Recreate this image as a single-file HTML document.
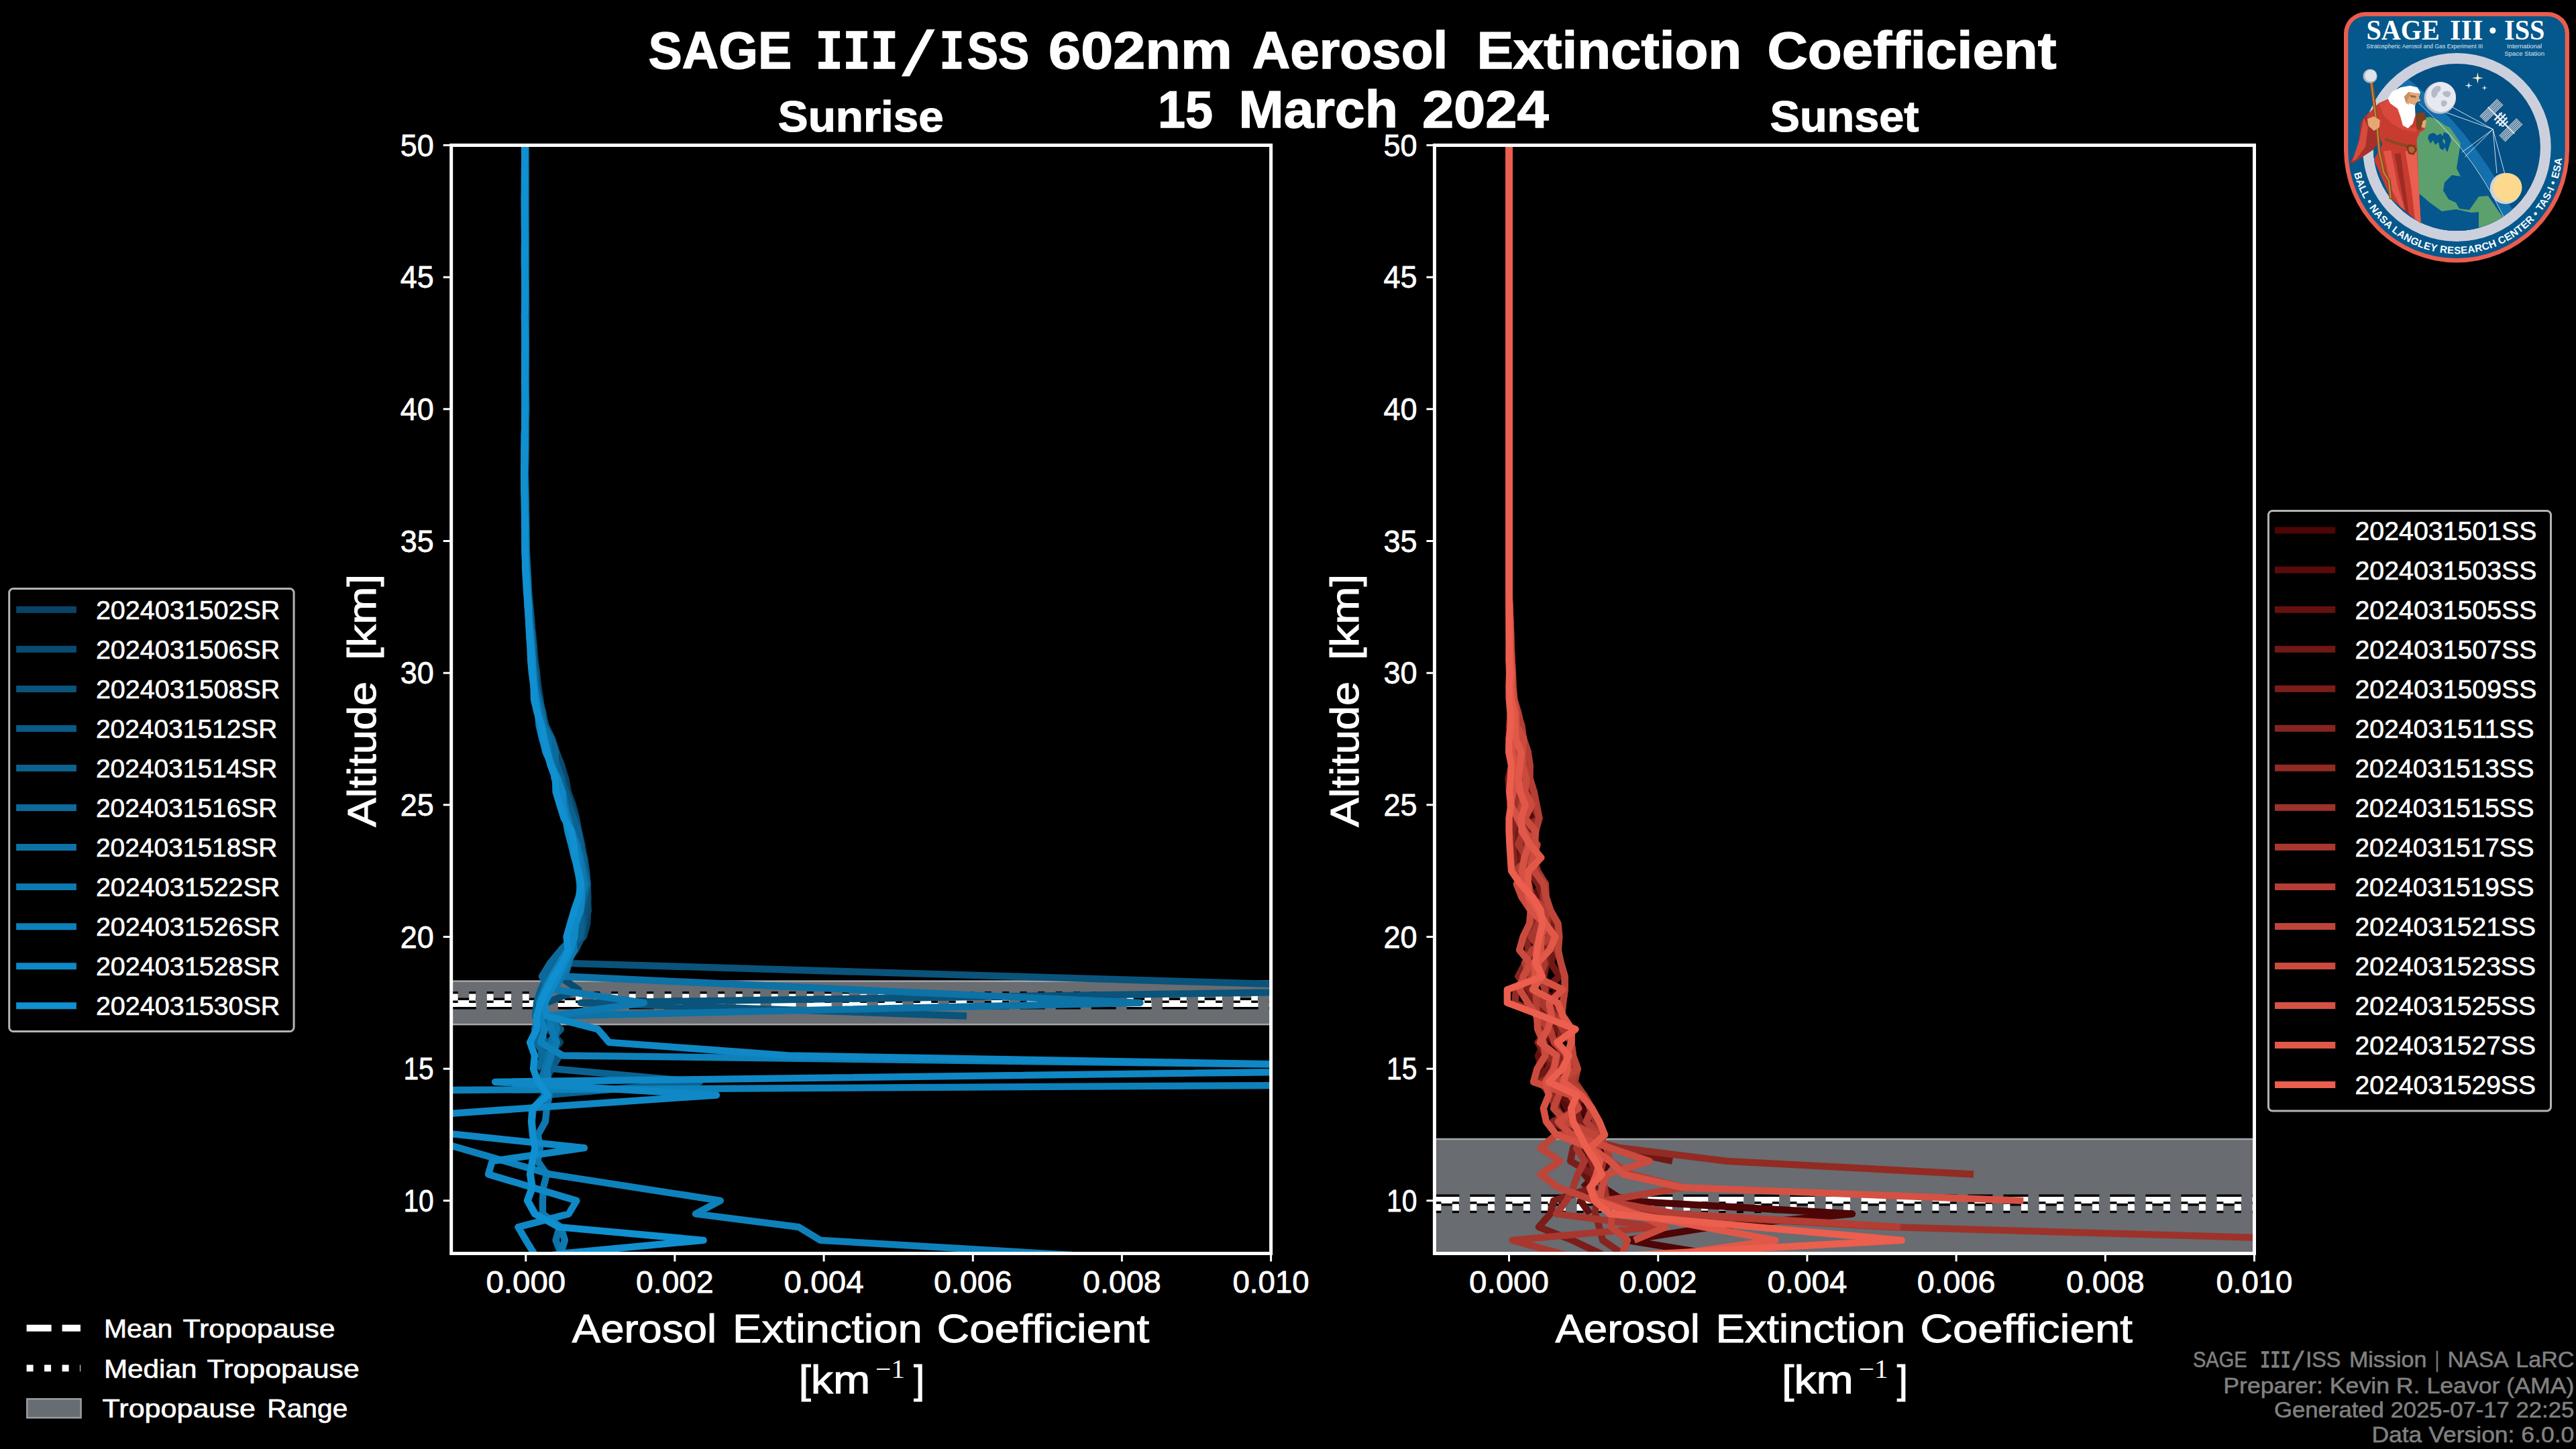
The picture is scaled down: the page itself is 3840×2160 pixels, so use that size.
<!DOCTYPE html>
<html><head><meta charset="utf-8"><title>SAGE III/ISS 602nm Aerosol Extinction Coefficient</title>
<style>html,body{margin:0;padding:0;background:#000;overflow:hidden;}svg{display:block;}</style></head>
<body>
<svg width="3840" height="2160" viewBox="0 0 3840 2160" font-family="'Liberation Sans','DejaVu Sans',sans-serif" fill="#fff">
<rect width="3840" height="2160" fill="#000"/>
<defs>
<clipPath id="clip0"><rect x="672.7" y="216.5" width="1221.9" height="1652.0"/></clipPath>
<clipPath id="clip1"><rect x="2138.4" y="216.5" width="1222.1" height="1652.0"/></clipPath>
</defs>
<g id="titles">
<text y="101.5" font-size="77" font-weight="bold" stroke="#fff" stroke-width="1.4"><tspan x="966.5" textLength="213.8" lengthAdjust="spacingAndGlyphs">SAGE</tspan> <tspan x="1215.4" font-family="'Liberation Mono','DejaVu Sans Mono',monospace" font-size="84" textLength="123.5" lengthAdjust="spacingAndGlyphs">III</tspan><tspan x="1340.9" dy="10" font-family="'Liberation Mono','DejaVu Sans Mono',monospace" font-size="92" textLength="55.6" lengthAdjust="spacingAndGlyphs">/</tspan><tspan x="1400.6" dy="-10" font-family="'Liberation Mono','DejaVu Sans Mono',monospace" font-size="84" textLength="37.0" lengthAdjust="spacingAndGlyphs">I</tspan><tspan x="1441.7" textLength="92.5" lengthAdjust="spacingAndGlyphs">SS</tspan> <tspan x="1563.1" textLength="273.7" lengthAdjust="spacingAndGlyphs">602nm</tspan> <tspan x="1866.8" textLength="291.4" lengthAdjust="spacingAndGlyphs">Aerosol</tspan> <tspan x="2201.4" textLength="394.8" lengthAdjust="spacingAndGlyphs">Extinction</tspan> <tspan x="2634.6" textLength="430.9" lengthAdjust="spacingAndGlyphs">Coefficient</tspan></text>
<text y="189.7" font-size="77" font-weight="bold" stroke="#fff" stroke-width="1.4"><tspan x="1726.0" textLength="82.0" lengthAdjust="spacingAndGlyphs">15</tspan> <tspan x="1846.6" textLength="237.3" lengthAdjust="spacingAndGlyphs">March</tspan> <tspan x="2119.9" textLength="188.8" lengthAdjust="spacingAndGlyphs">2024</tspan></text>
<text x="1159.8" y="195.7" font-size="65" font-weight="bold" stroke="#fff" stroke-width="1.2" textLength="246.9" lengthAdjust="spacingAndGlyphs">Sunrise</text>
<text x="2638.5" y="195.7" font-size="65" font-weight="bold" stroke="#fff" stroke-width="1.2" textLength="222.0" lengthAdjust="spacingAndGlyphs">Sunset</text>
</g>
<g id="axes0">
<g clip-path="url(#clip0)" fill="none">
<rect x="662.7" y="1462.6" width="1241.9" height="64.5" fill="#696c71" stroke="#a4a7ab" stroke-width="2.5"/>
<path d="M672.7 1496.0H1894.6" stroke="#000" stroke-width="17" stroke-dasharray="37 16"/>
<path d="M672.7 1496.0H1894.6" stroke="#fff" stroke-width="10" stroke-dasharray="37 16"/>
<path d="M672.7 1486.6H1894.6" stroke="#000" stroke-width="17" stroke-dasharray="10 16.5"/>
<path d="M672.7 1486.6H1894.6" stroke="#fff" stroke-width="10" stroke-dasharray="10 16.5"/>
<g stroke-width="10.3" stroke-linejoin="round">
<path d="M783.8 216.5L783.6 236.2L783.6 255.8L783.7 275.5L783.4 295.2L783.6 314.8L783.5 334.5L783.3 354.2L783.9 373.8L784.0 393.5L783.7 413.2L783.8 432.8L784.0 452.5L783.8 472.2L783.7 491.8L783.5 511.5L784.0 531.2L784.1 550.8L784.0 570.5L783.8 590.2L784.3 609.8L784.0 629.5L783.8 649.2L783.8 668.8L783.4 688.5L782.7 708.2L782.9 727.8L783.0 747.5L784.0 767.2L784.2 786.8L784.5 806.5L785.2 826.2L785.5 845.8L786.9 865.5L787.4 885.2L788.9 904.8L790.9 924.5L794.1 944.2L795.9 963.8L797.4 983.5L800.1 1003.2L802.2 1022.8L805.4 1042.5L807.5 1062.2L809.8 1081.8L816.5 1101.5L829.2 1121.2L836.9 1140.8L843.3 1160.5L846.8 1180.2L853.9 1199.8L859.1 1219.5L862.7 1239.2L867.3 1258.8L870.8 1278.5L873.7 1298.2L875.6 1317.8L876.6 1337.5L875.9 1357.2L875.4 1376.8L870.0 1396.5L846.0 1416.2L830.0 1435.8L818.0 1455.5L808.0 1475.2L802.0 1494.8L808.0 1514.5L818.0 1534.2L835.0 1553.8L815.0 1573.5L805.0 1593.2" stroke="#084466"/>
<path d="M782.8 216.5L783.3 236.2L783.9 255.8L783.4 275.5L783.0 295.2L782.9 314.8L783.1 334.5L783.2 354.2L783.3 373.8L783.9 393.5L783.7 413.2L783.8 432.8L784.2 452.5L784.2 472.2L783.9 491.8L783.9 511.5L784.1 531.2L783.7 550.8L783.4 570.5L784.0 590.2L784.2 609.8L783.8 629.5L783.2 649.2L783.1 668.8L782.9 688.5L783.0 708.2L783.7 727.8L784.0 747.5L784.2 767.2L784.5 786.8L784.8 806.5L784.9 826.2L785.6 845.8L786.6 865.5L788.4 885.2L790.4 904.8L792.2 924.5L792.7 944.2L793.7 963.8L795.3 983.5L798.9 1003.2L801.0 1022.8L802.3 1042.5L808.2 1062.2L813.9 1081.8L823.0 1101.5L829.5 1121.2L836.9 1140.8L839.4 1160.5L843.8 1180.2L851.5 1199.8L858.8 1219.5L862.0 1239.2L863.1 1258.8L869.3 1278.5L874.1 1298.2L876.0 1317.8L874.7 1337.5L877.0 1357.2L870.0 1376.8L863.9 1396.5L850.0 1416.2L838.0 1435.8L834.0 1455.5L862.5 1475.2L815.0 1494.8L805.0 1514.5L800.0 1534.2L812.0 1553.8" stroke="#094c71"/>
<path d="M783.4 216.5L783.3 236.2L783.3 255.8L783.6 275.5L783.6 295.2L783.6 314.8L783.7 334.5L783.5 354.2L783.2 373.8L783.2 393.5L783.3 413.2L783.4 432.8L783.0 452.5L782.9 472.2L783.3 491.8L783.0 511.5L782.9 531.2L783.5 550.8L783.6 570.5L783.7 590.2L783.4 609.8L782.9 629.5L782.7 649.2L782.8 668.8L782.8 688.5L782.5 708.2L782.7 727.8L782.8 747.5L783.3 767.2L783.3 786.8L784.0 806.5L785.0 826.2L786.3 845.8L787.4 865.5L787.5 885.2L789.6 904.8L792.0 924.5L793.3 944.2L793.6 963.8L796.5 983.5L799.8 1003.2L799.2 1022.8L803.8 1042.5L809.4 1062.2L812.4 1081.8L818.9 1101.5L822.5 1121.2L827.8 1140.8L834.9 1160.5L842.9 1180.2L849.4 1199.8L855.5 1219.5L857.8 1239.2L863.8 1258.8L871.1 1278.5L874.0 1298.2L874.1 1317.8L874.0 1337.5L871.0 1357.2L869.5 1376.8L867.2 1396.5L858.0 1416.2L843.0 1435.8L2175.0 1475.2L866.0 1494.8L1441.0 1514.5" stroke="#0a537b"/>
<path d="M783.4 216.5L783.0 236.2L782.4 255.8L782.6 275.5L783.2 295.2L783.3 314.8L783.5 334.5L783.3 354.2L783.2 373.8L783.4 393.5L783.0 413.2L782.8 432.8L783.6 452.5L783.1 472.2L783.5 491.8L783.8 511.5L783.4 531.2L783.1 550.8L783.5 570.5L783.1 590.2L782.8 609.8L783.1 629.5L783.4 649.2L783.3 668.8L783.1 688.5L782.6 708.2L782.7 727.8L782.7 747.5L783.3 767.2L783.9 786.8L784.1 806.5L784.4 826.2L784.9 845.8L786.0 865.5L787.5 885.2L788.9 904.8L790.8 924.5L792.7 944.2L795.1 963.8L795.4 983.5L796.5 1003.2L797.8 1022.8L802.2 1042.5L807.4 1062.2L810.5 1081.8L817.6 1101.5L825.5 1121.2L829.9 1140.8L835.5 1160.5L843.9 1180.2L848.6 1199.8L854.7 1219.5L862.1 1239.2L866.2 1258.8L867.0 1278.5L870.6 1298.2L875.1 1317.8L870.8 1337.5L865.3 1357.2L868.7 1376.8L865.1 1396.5L842.0 1416.2L826.0 1435.8L812.0 1455.5L812.0 1475.2L805.0 1494.8L815.0 1514.5L836.0 1534.2L818.0 1553.8L834.0 1573.5L822.0 1593.2L812.0 1612.8" stroke="#0a5b86"/>
<path d="M783.0 216.5L782.7 236.2L783.1 255.8L782.9 275.5L782.7 295.2L782.5 314.8L782.8 334.5L782.9 354.2L783.0 373.8L783.2 393.5L783.3 413.2L783.4 432.8L783.0 452.5L782.9 472.2L783.2 491.8L783.6 511.5L783.8 531.2L783.5 550.8L782.9 570.5L783.5 590.2L783.8 609.8L783.2 629.5L782.8 649.2L782.8 668.8L782.6 688.5L782.7 708.2L782.9 727.8L783.5 747.5L783.5 767.2L783.4 786.8L784.1 806.5L784.5 826.2L784.8 845.8L785.5 865.5L786.2 885.2L788.6 904.8L789.3 924.5L789.1 944.2L790.6 963.8L793.9 983.5L797.4 1003.2L799.1 1022.8L801.6 1042.5L803.1 1062.2L807.7 1081.8L817.8 1101.5L824.4 1121.2L830.1 1140.8L837.3 1160.5L838.3 1180.2L844.6 1199.8L855.0 1219.5L862.0 1239.2L864.3 1258.8L869.4 1278.5L870.7 1298.2L873.8 1317.8L869.6 1337.5L863.6 1357.2L864.8 1376.8L865.2 1396.5L838.0 1416.2L824.0 1435.8L815.0 1455.5L806.0 1475.2L800.0 1494.8L798.0 1514.5L806.0 1534.2L812.0 1553.8L806.0 1573.5L824.0 1593.2L1043.0 1612.8L810.0 1632.5" stroke="#0b6290"/>
<path d="M782.6 216.5L782.8 236.2L783.0 255.8L782.4 275.5L782.2 295.2L782.4 314.8L782.6 334.5L783.2 354.2L783.1 373.8L782.6 393.5L783.0 413.2L783.7 432.8L783.0 452.5L782.8 472.2L783.1 491.8L783.3 511.5L783.2 531.2L782.8 550.8L782.8 570.5L783.3 590.2L783.0 609.8L782.5 629.5L783.1 649.2L783.0 668.8L782.5 688.5L782.2 708.2L782.5 727.8L782.5 747.5L782.6 767.2L783.1 786.8L783.2 806.5L783.7 826.2L784.1 845.8L785.6 865.5L787.3 885.2L789.1 904.8L789.0 924.5L789.4 944.2L791.1 963.8L792.3 983.5L794.9 1003.2L798.5 1022.8L802.9 1042.5L807.6 1062.2L810.7 1081.8L822.0 1101.5L828.0 1121.2L826.4 1140.8L826.3 1160.5L836.4 1180.2L842.3 1199.8L844.1 1219.5L853.5 1239.2L859.2 1258.8L863.3 1278.5L870.9 1298.2L874.8 1317.8L869.5 1337.5L866.1 1357.2L859.9 1376.8L855.1 1396.5L836.0 1416.2L820.0 1435.8L808.0 1455.5L818.0 1475.2L812.0 1494.8L803.0 1514.5L797.0 1534.2L800.0 1553.8L812.0 1573.5L800.0 1593.2" stroke="#0c6a9b"/>
<path d="M782.6 216.5L782.7 236.2L782.2 255.8L781.9 275.5L782.4 295.2L782.3 314.8L782.7 334.5L783.3 354.2L782.8 373.8L782.3 393.5L782.3 413.2L783.0 432.8L783.0 452.5L783.1 472.2L783.2 491.8L783.0 511.5L782.7 531.2L782.3 550.8L782.0 570.5L782.2 590.2L782.7 609.8L782.7 629.5L782.7 649.2L782.5 668.8L782.4 688.5L782.3 708.2L782.1 727.8L782.3 747.5L782.4 767.2L783.3 786.8L783.6 806.5L784.1 826.2L785.4 845.8L786.4 865.5L787.1 885.2L788.1 904.8L788.6 924.5L790.6 944.2L791.7 963.8L792.2 983.5L795.9 1003.2L797.0 1022.8L800.2 1042.5L803.9 1062.2L810.8 1081.8L817.1 1101.5L817.7 1121.2L820.9 1140.8L830.5 1160.5L839.0 1180.2L842.0 1199.8L846.9 1219.5L852.4 1239.2L852.3 1258.8L858.8 1278.5L864.8 1298.2L870.3 1317.8L865.7 1337.5L860.6 1357.2L856.7 1376.8L850.6 1396.5L852.0 1416.2L848.0 1435.8L842.0 1455.5L1699.5 1494.8L825.0 1514.5L830.0 1534.2L822.0 1553.8L818.0 1573.5L812.0 1593.2L806.0 1612.8L812.0 1632.5L795.0 1652.2L793.0 1671.8L795.0 1691.5L798.0 1711.2L794.0 1730.8L791.0 1750.5L794.0 1770.2L787.0 1789.8L798.0 1809.5L834.0 1829.2L828.5 1848.8L836.2 1868.5L842.0 1888.2" stroke="#0d72a6"/>
<path d="M782.3 216.5L782.2 236.2L782.2 255.8L782.3 275.5L782.7 295.2L782.6 314.8L782.7 334.5L782.7 354.2L782.4 373.8L782.7 393.5L782.8 413.2L782.7 432.8L782.5 452.5L782.6 472.2L783.1 491.8L783.4 511.5L782.8 531.2L782.8 550.8L782.8 570.5L783.1 590.2L783.1 609.8L782.7 629.5L781.6 649.2L781.7 668.8L781.7 688.5L781.8 708.2L781.8 727.8L782.2 747.5L783.1 767.2L783.4 786.8L782.3 806.5L782.9 826.2L784.3 845.8L785.3 865.5L786.1 885.2L786.6 904.8L788.1 924.5L790.8 944.2L792.7 963.8L792.9 983.5L793.6 1003.2L795.9 1022.8L798.8 1042.5L803.5 1062.2L807.4 1081.8L811.7 1101.5L817.6 1121.2L822.0 1140.8L832.2 1160.5L838.5 1180.2L839.6 1199.8L846.2 1219.5L851.4 1239.2L860.0 1258.8L864.9 1278.5L867.8 1298.2L871.7 1317.8L866.1 1337.5L860.4 1357.2L856.1 1376.8L853.4 1396.5L856.0 1416.2L846.0 1435.8L838.0 1455.5L826.0 1475.2L960.0 1494.8L818.0 1514.5L822.0 1534.2L830.0 1553.8L822.0 1573.5L815.0 1593.2L817.5 1612.8L818.8 1632.5L815.0 1652.2L813.0 1671.8L802.0 1691.5L805.0 1711.2L801.5 1730.8L815.0 1750.5L810.0 1770.2L809.0 1789.8L809.0 1809.5L836.0 1829.2L842.0 1848.8L836.0 1868.5L830.0 1888.2" stroke="#0e79b0"/>
<path d="M782.1 216.5L782.2 236.2L782.2 255.8L782.5 275.5L782.6 295.2L782.1 314.8L781.9 334.5L782.6 354.2L782.8 373.8L782.4 393.5L782.1 413.2L782.6 432.8L782.8 452.5L782.1 472.2L782.5 491.8L782.4 511.5L782.3 531.2L782.6 550.8L782.3 570.5L782.8 590.2L783.0 609.8L782.5 629.5L781.8 649.2L781.4 668.8L781.3 688.5L781.2 708.2L782.3 727.8L782.2 747.5L782.0 767.2L782.0 786.8L782.3 806.5L782.7 826.2L783.6 845.8L785.6 865.5L786.0 885.2L786.8 904.8L788.9 924.5L791.3 944.2L792.4 963.8L792.2 983.5L794.0 1003.2L796.1 1022.8L799.0 1042.5L801.8 1062.2L803.6 1081.8L808.3 1101.5L815.7 1121.2L821.0 1140.8L831.1 1160.5L834.5 1180.2L836.9 1199.8L843.4 1219.5L849.7 1239.2L856.3 1258.8L861.9 1278.5L861.8 1298.2L864.2 1317.8L864.6 1337.5L861.6 1357.2L857.9 1376.8L854.4 1396.5L846.0 1416.2L834.0 1435.8L822.0 1455.5L812.0 1475.2L804.0 1494.8L805.0 1514.5L812.0 1534.2L806.0 1553.8L839.0 1573.5L2427.0 1593.2L2812.0 1612.8L-644.0 1632.5L412.0 1632.5L820.7 1750.5L1073.9 1789.8L1037.0 1809.5L1190.6 1829.2L1223.0 1848.8L1598.0 1870.9" stroke="#0e81bb"/>
<path d="M782.1 216.5L782.2 236.2L781.9 255.8L782.0 275.5L781.8 295.2L781.8 314.8L782.3 334.5L782.2 354.2L781.8 373.8L781.8 393.5L782.4 413.2L782.6 432.8L782.2 452.5L782.1 472.2L782.2 491.8L783.1 511.5L782.9 531.2L782.8 550.8L782.9 570.5L782.9 590.2L782.6 609.8L782.3 629.5L782.3 649.2L782.2 668.8L782.1 688.5L781.5 708.2L781.6 727.8L782.4 747.5L782.8 767.2L782.7 786.8L782.5 806.5L782.7 826.2L783.7 845.8L785.8 865.5L786.9 885.2L788.0 904.8L788.5 924.5L789.2 944.2L791.8 963.8L794.0 983.5L794.5 1003.2L795.4 1022.8L798.6 1042.5L801.1 1062.2L805.8 1081.8L808.7 1101.5L813.4 1121.2L822.3 1140.8L830.0 1160.5L837.8 1180.2L839.3 1199.8L843.0 1219.5L846.3 1239.2L851.5 1258.8L856.3 1278.5L863.3 1298.2L866.1 1317.8L867.1 1337.5L865.0 1357.2L857.7 1376.8L856.4 1396.5L850.0 1416.2L842.0 1435.8L832.0 1455.5L822.0 1475.2L812.0 1494.8L815.0 1514.5L891.0 1534.2L908.0 1553.8L1175.0 1573.5L2294.0 1593.2L738.0 1612.8L1068.0 1632.5L500.0 1671.8L871.0 1711.2L733.8 1730.8L728.0 1750.5L859.4 1789.8L847.8 1809.5L772.4 1829.2L784.0 1848.8L796.0 1868.5L808.0 1888.2" stroke="#0f88c5"/>
<path d="M782.1 216.5L782.2 236.2L782.1 255.8L782.1 275.5L781.8 295.2L782.0 314.8L781.9 334.5L782.0 354.2L782.3 373.8L782.2 393.5L782.2 413.2L782.4 432.8L782.3 452.5L781.9 472.2L782.3 491.8L782.4 511.5L782.1 531.2L782.2 550.8L782.1 570.5L782.6 590.2L782.3 609.8L782.1 629.5L782.3 649.2L781.9 668.8L781.7 688.5L781.1 708.2L781.3 727.8L781.6 747.5L782.1 767.2L782.7 786.8L782.9 806.5L783.0 826.2L783.0 845.8L784.1 865.5L785.3 885.2L787.0 904.8L788.1 924.5L789.1 944.2L790.4 963.8L791.1 983.5L792.9 1003.2L795.5 1022.8L796.0 1042.5L800.6 1062.2L807.3 1081.8L811.1 1101.5L815.8 1121.2L820.6 1140.8L828.0 1160.5L828.5 1180.2L834.4 1199.8L840.5 1219.5L851.9 1239.2L855.6 1258.8L857.1 1278.5L861.1 1298.2L866.2 1317.8L862.7 1337.5L855.8 1357.2L850.1 1376.8L844.5 1396.5L847.0 1416.2L838.0 1435.8L826.0 1455.5L815.0 1475.2L806.0 1494.8L800.0 1514.5L800.0 1534.2L790.0 1553.8L797.0 1573.5L795.0 1593.2L802.0 1612.8L817.0 1632.5L793.5 1652.2L792.0 1671.8L794.0 1691.5L797.5 1711.2L793.5 1730.8L790.0 1750.5L793.0 1770.2L786.0 1789.8L797.0 1809.5L833.0 1829.2L1048.7 1848.8L840.0 1868.5L700.0 1888.2" stroke="#1090d0"/>
</g></g>
<rect x="672.7" y="216.5" width="1221.9" height="1652.0" fill="none" stroke="#fff" stroke-width="5"/>
<path d="M660.7 1789.8H672.7" stroke="#fff" stroke-width="3"/>
<text x="601.4" y="1806.0" font-size="45.5" stroke="#fff" stroke-width="0.77" textLength="45.4" lengthAdjust="spacingAndGlyphs">10</text>
<path d="M660.7 1593.2H672.7" stroke="#fff" stroke-width="3"/>
<text x="601.4" y="1609.4" font-size="45.5" stroke="#fff" stroke-width="0.77" textLength="45.4" lengthAdjust="spacingAndGlyphs">15</text>
<path d="M660.7 1396.5H672.7" stroke="#fff" stroke-width="3"/>
<text x="596.7" y="1412.7" font-size="45.5" stroke="#fff" stroke-width="0.77" textLength="50.1" lengthAdjust="spacingAndGlyphs">20</text>
<path d="M660.7 1199.8H672.7" stroke="#fff" stroke-width="3"/>
<text x="596.7" y="1216.0" font-size="45.5" stroke="#fff" stroke-width="0.77" textLength="50.1" lengthAdjust="spacingAndGlyphs">25</text>
<path d="M660.7 1003.2H672.7" stroke="#fff" stroke-width="3"/>
<text x="596.7" y="1019.4" font-size="45.5" stroke="#fff" stroke-width="0.77" textLength="50.1" lengthAdjust="spacingAndGlyphs">30</text>
<path d="M660.7 806.5H672.7" stroke="#fff" stroke-width="3"/>
<text x="596.7" y="822.7" font-size="45.5" stroke="#fff" stroke-width="0.77" textLength="50.1" lengthAdjust="spacingAndGlyphs">35</text>
<path d="M660.7 609.8H672.7" stroke="#fff" stroke-width="3"/>
<text x="596.7" y="626.0" font-size="45.5" stroke="#fff" stroke-width="0.77" textLength="50.1" lengthAdjust="spacingAndGlyphs">40</text>
<path d="M660.7 413.2H672.7" stroke="#fff" stroke-width="3"/>
<text x="596.7" y="429.4" font-size="45.5" stroke="#fff" stroke-width="0.77" textLength="50.1" lengthAdjust="spacingAndGlyphs">45</text>
<path d="M660.7 216.5H672.7" stroke="#fff" stroke-width="3"/>
<text x="596.7" y="232.7" font-size="45.5" stroke="#fff" stroke-width="0.77" textLength="50.1" lengthAdjust="spacingAndGlyphs">50</text>
<path d="M783.8 1868.5V1880.5" stroke="#fff" stroke-width="3"/>
<text x="724.4" y="1927.0" font-size="45.5" stroke="#fff" stroke-width="0.77" textLength="118.8" lengthAdjust="spacingAndGlyphs">0.000</text>
<path d="M1005.9 1868.5V1880.5" stroke="#fff" stroke-width="3"/>
<text x="948.1" y="1927.0" font-size="45.5" stroke="#fff" stroke-width="0.77" textLength="115.7" lengthAdjust="spacingAndGlyphs">0.002</text>
<path d="M1228.1 1868.5V1880.5" stroke="#fff" stroke-width="3"/>
<text x="1168.6" y="1927.0" font-size="45.5" stroke="#fff" stroke-width="0.77" textLength="119.0" lengthAdjust="spacingAndGlyphs">0.004</text>
<path d="M1450.3 1868.5V1880.5" stroke="#fff" stroke-width="3"/>
<text x="1391.9" y="1927.0" font-size="45.5" stroke="#fff" stroke-width="0.77" textLength="116.8" lengthAdjust="spacingAndGlyphs">0.006</text>
<path d="M1672.4 1868.5V1880.5" stroke="#fff" stroke-width="3"/>
<text x="1614.0" y="1927.0" font-size="45.5" stroke="#fff" stroke-width="0.77" textLength="116.8" lengthAdjust="spacingAndGlyphs">0.008</text>
<path d="M1894.6 1868.5V1880.5" stroke="#fff" stroke-width="3"/>
<text x="1837.5" y="1927.0" font-size="45.5" stroke="#fff" stroke-width="0.77" textLength="114.1" lengthAdjust="spacingAndGlyphs">0.010</text>
<text x="852.8" y="2001.0" font-size="59" stroke="#fff" stroke-width="1.0" textLength="215.3" lengthAdjust="spacingAndGlyphs">Aerosol</text>
<text x="1091.9" y="2001.0" font-size="59" stroke="#fff" stroke-width="1.0" textLength="282.8" lengthAdjust="spacingAndGlyphs">Extinction</text>
<text x="1396.6" y="2001.0" font-size="59" stroke="#fff" stroke-width="1.0" textLength="316.7" lengthAdjust="spacingAndGlyphs">Coefficient</text>
<text x="1190.4" y="2077.0" font-size="59" stroke="#fff" stroke-width="1.0" textLength="106.7" lengthAdjust="spacingAndGlyphs">[km</text>
<text x="1305.0" y="2054" font-size="40" font-family="'Liberation Serif','DejaVu Serif',serif" textLength="44" lengthAdjust="spacingAndGlyphs">−1</text>
<text x="1362.0" y="2077.0" font-size="59" stroke="#fff" stroke-width="1.0" textLength="16.3" lengthAdjust="spacingAndGlyphs">]</text>
<text transform="translate(559.5,1232.7) rotate(-90)" x="0.0" y="0" font-size="59" stroke="#fff" stroke-width="1.0" textLength="216.9" lengthAdjust="spacingAndGlyphs">Altitude</text>
<text transform="translate(559.5,1232.7) rotate(-90)" x="248.8" y="0" font-size="59" stroke="#fff" stroke-width="1.0" textLength="128.2" lengthAdjust="spacingAndGlyphs">[km]</text>
</g>
<g id="axes1">
<g clip-path="url(#clip1)" fill="none">
<rect x="2128.4" y="1698.0" width="1242.1" height="209.8" fill="#696c71" stroke="#a4a7ab" stroke-width="2.5"/>
<path d="M2138.4 1789.0H3360.5" stroke="#000" stroke-width="17" stroke-dasharray="37 16"/>
<path d="M2138.4 1789.0H3360.5" stroke="#fff" stroke-width="10" stroke-dasharray="37 16"/>
<path d="M2138.4 1799.7H3360.5" stroke="#000" stroke-width="17" stroke-dasharray="10 16.5"/>
<path d="M2138.4 1799.7H3360.5" stroke="#fff" stroke-width="10" stroke-dasharray="10 16.5"/>
<g stroke-width="10.3" stroke-linejoin="round">
<path d="M2249.5 216.5L2249.5 236.2L2249.5 255.8L2249.5 275.5L2249.5 295.2L2249.5 314.8L2249.5 334.5L2249.5 354.2L2249.5 373.8L2249.5 393.5L2249.5 413.2L2249.5 432.8L2249.5 452.5L2249.5 472.2L2249.5 491.8L2249.5 511.5L2249.5 531.2L2249.5 550.8L2249.5 570.5L2249.5 590.2L2249.5 609.8L2249.5 629.5L2249.5 649.2L2249.5 668.8L2249.5 688.5L2249.5 708.2L2249.5 727.8L2249.5 747.5L2249.5 767.2L2249.5 786.8L2249.5 806.5L2249.5 826.2L2249.5 845.8L2249.5 865.5L2249.5 885.2L2249.8 904.8L2250.1 924.5L2250.3 944.2L2250.0 963.8L2251.4 983.5L2251.0 1003.2L2250.6 1022.8L2251.8 1042.5L2253.7 1062.2L2257.3 1081.8L2254.3 1101.5L2258.4 1121.2L2258.6 1140.8L2252.8 1160.5L2255.0 1180.2L2263.8 1199.8L2271.6 1219.5L2278.4 1239.2L2283.2 1258.8L2289.2 1278.5L2292.2 1298.2L2299.6 1317.8L2291.7 1337.5L2301.0 1357.2L2307.5 1376.8L2285.4 1396.5L2299.9 1416.2L2286.4 1435.8L2287.4 1455.5L2324.4 1475.2L2304.2 1494.8L2309.9 1514.5L2334.9 1534.2L2316.7 1553.8L2312.2 1573.5L2325.1 1593.2L2325.8 1612.8L2347.8 1632.5L2356.9 1652.2L2375.5 1671.8L2384.8 1691.5L2385.0 1711.2L2400.0 1730.8L2385.0 1750.5L2390.0 1770.2L2420.0 1789.8L2761.0 1809.5L2551.0 1829.2L2426.0 1848.8L2545.0 1868.5L2600.0 1888.2" stroke="#4e0505"/>
<path d="M2249.6 216.5L2249.6 236.2L2249.6 255.8L2249.6 275.5L2249.6 295.2L2249.6 314.8L2249.6 334.5L2249.6 354.2L2249.6 373.8L2249.6 393.5L2249.6 413.2L2249.6 432.8L2249.6 452.5L2249.6 472.2L2249.6 491.8L2249.6 511.5L2249.6 531.2L2249.6 550.8L2249.6 570.5L2249.6 590.2L2249.6 609.8L2249.6 629.5L2249.6 649.2L2249.6 668.8L2249.6 688.5L2249.6 708.2L2249.6 727.8L2249.6 747.5L2249.6 767.2L2249.6 786.8L2249.6 806.5L2249.6 826.2L2249.6 845.8L2249.6 865.5L2249.6 885.2L2250.3 904.8L2251.1 924.5L2251.8 944.2L2252.5 963.8L2253.6 983.5L2254.4 1003.2L2254.8 1022.8L2257.0 1042.5L2261.4 1062.2L2262.9 1081.8L2271.2 1101.5L2274.0 1121.2L2280.7 1140.8L2274.3 1160.5L2280.9 1180.2L2282.5 1199.8L2283.3 1219.5L2285.2 1239.2L2287.5 1258.8L2284.5 1278.5L2288.4 1298.2L2296.7 1317.8L2288.5 1337.5L2297.8 1357.2L2314.9 1376.8L2319.0 1396.5L2311.8 1416.2L2302.4 1435.8L2300.4 1455.5L2270.8 1475.2L2293.4 1494.8L2312.6 1514.5L2321.9 1534.2L2302.9 1553.8L2297.2 1573.5L2312.5 1593.2L2312.8 1612.8L2326.6 1632.5L2335.6 1652.2L2357.6 1671.8L2356.4 1691.5L2372.0 1711.2L2365.0 1730.8L2380.0 1750.5L2360.0 1770.2" stroke="#590b0a"/>
<path d="M2249.6 216.5L2249.6 236.2L2249.6 255.8L2249.6 275.5L2249.6 295.2L2249.6 314.8L2249.6 334.5L2249.6 354.2L2249.6 373.8L2249.6 393.5L2249.6 413.2L2249.6 432.8L2249.6 452.5L2249.6 472.2L2249.6 491.8L2249.6 511.5L2249.6 531.2L2249.6 550.8L2249.6 570.5L2249.6 590.2L2249.6 609.8L2249.6 629.5L2249.6 649.2L2249.6 668.8L2249.6 688.5L2249.6 708.2L2249.6 727.8L2249.6 747.5L2249.6 767.2L2249.6 786.8L2249.6 806.5L2249.6 826.2L2249.6 845.8L2249.6 865.5L2249.6 885.2L2250.0 904.8L2250.5 924.5L2251.0 944.2L2251.2 963.8L2252.0 983.5L2251.6 1003.2L2251.9 1022.8L2253.6 1042.5L2257.0 1062.2L2259.4 1081.8L2267.0 1101.5L2264.4 1121.2L2267.4 1140.8L2273.3 1160.5L2275.9 1180.2L2265.1 1199.8L2270.1 1219.5L2278.0 1239.2L2265.9 1258.8L2260.9 1278.5L2258.0 1298.2L2265.0 1317.8L2272.1 1337.5L2289.0 1357.2L2303.4 1376.8L2317.3 1396.5L2311.1 1416.2L2279.5 1435.8L2281.5 1455.5L2276.1 1475.2L2288.1 1494.8L2306.1 1514.5L2297.2 1534.2L2302.0 1553.8L2293.0 1573.5L2297.5 1593.2L2301.2 1612.8L2328.3 1632.5L2354.2 1652.2L2314.5 1671.8L2342.9 1691.5L2360.0 1711.2L2380.0 1730.8L2362.0 1750.5L2378.0 1770.2L2356.0 1789.8L2370.0 1809.5" stroke="#65120f"/>
<path d="M2249.5 216.5L2249.5 236.2L2249.5 255.8L2249.5 275.5L2249.5 295.2L2249.5 314.8L2249.5 334.5L2249.5 354.2L2249.5 373.8L2249.5 393.5L2249.5 413.2L2249.5 432.8L2249.5 452.5L2249.5 472.2L2249.5 491.8L2249.5 511.5L2249.5 531.2L2249.5 550.8L2249.5 570.5L2249.5 590.2L2249.5 609.8L2249.5 629.5L2249.5 649.2L2249.5 668.8L2249.5 688.5L2249.5 708.2L2249.5 727.8L2249.5 747.5L2249.5 767.2L2249.5 786.8L2249.5 806.5L2249.5 826.2L2249.5 845.8L2249.5 865.5L2249.5 885.2L2249.6 904.8L2249.7 924.5L2249.8 944.2L2250.2 963.8L2249.9 983.5L2250.4 1003.2L2250.9 1022.8L2251.3 1042.5L2251.5 1062.2L2249.9 1081.8L2249.5 1101.5L2255.2 1121.2L2253.3 1140.8L2248.4 1160.5L2249.9 1180.2L2251.0 1199.8L2254.0 1219.5L2258.8 1239.2L2255.2 1258.8L2257.6 1278.5L2271.2 1298.2L2276.7 1317.8L2287.1 1337.5L2301.8 1357.2L2305.1 1376.8L2301.8 1396.5L2317.0 1416.2L2311.9 1435.8L2324.9 1455.5L2302.3 1475.2L2312.5 1494.8L2319.7 1514.5L2319.5 1534.2L2292.7 1553.8L2317.4 1573.5L2307.7 1593.2L2292.7 1612.8L2319.9 1632.5L2321.3 1652.2L2332.0 1671.8L2345.6 1691.5L2400.0 1711.2L2493.0 1730.8" stroke="#701815"/>
<path d="M2249.6 216.5L2249.6 236.2L2249.6 255.8L2249.6 275.5L2249.6 295.2L2249.6 314.8L2249.6 334.5L2249.6 354.2L2249.6 373.8L2249.6 393.5L2249.6 413.2L2249.6 432.8L2249.6 452.5L2249.6 472.2L2249.6 491.8L2249.6 511.5L2249.6 531.2L2249.6 550.8L2249.6 570.5L2249.6 590.2L2249.6 609.8L2249.6 629.5L2249.6 649.2L2249.6 668.8L2249.6 688.5L2249.6 708.2L2249.6 727.8L2249.6 747.5L2249.6 767.2L2249.6 786.8L2249.6 806.5L2249.6 826.2L2249.6 845.8L2249.6 865.5L2249.6 885.2L2250.2 904.8L2250.8 924.5L2251.4 944.2L2251.6 963.8L2252.9 983.5L2254.1 1003.2L2252.9 1022.8L2254.5 1042.5L2259.4 1062.2L2262.6 1081.8L2263.5 1101.5L2272.5 1121.2L2271.3 1140.8L2277.5 1160.5L2276.3 1180.2L2273.2 1199.8L2274.5 1219.5L2283.0 1239.2L2270.0 1258.8L2269.0 1278.5L2279.7 1298.2L2292.9 1317.8L2300.3 1337.5L2297.8 1357.2L2318.3 1376.8L2312.8 1396.5L2307.2 1416.2L2305.1 1435.8L2301.5 1455.5L2281.9 1475.2L2281.7 1494.8L2315.8 1514.5L2308.6 1534.2L2292.7 1553.8L2304.2 1573.5L2316.1 1593.2L2322.0 1612.8L2355.9 1632.5L2348.8 1652.2L2355.9 1671.8L2373.5 1691.5L2345.0 1711.2L2341.0 1730.8L2375.6 1750.5L2375.0 1770.2L2316.0 1789.8L2311.0 1809.5L2293.8 1829.2L2344.0 1848.8L2385.0 1868.5L2420.0 1888.2" stroke="#7b1e1a"/>
<path d="M2249.5 216.5L2249.5 236.2L2249.5 255.8L2249.5 275.5L2249.5 295.2L2249.5 314.8L2249.5 334.5L2249.5 354.2L2249.5 373.8L2249.5 393.5L2249.5 413.2L2249.5 432.8L2249.5 452.5L2249.5 472.2L2249.5 491.8L2249.5 511.5L2249.5 531.2L2249.5 550.8L2249.5 570.5L2249.5 590.2L2249.5 609.8L2249.5 629.5L2249.5 649.2L2249.5 668.8L2249.5 688.5L2249.5 708.2L2249.5 727.8L2249.5 747.5L2249.5 767.2L2249.5 786.8L2249.5 806.5L2249.5 826.2L2249.5 845.8L2249.5 865.5L2249.5 885.2L2249.9 904.8L2250.3 924.5L2250.7 944.2L2251.6 963.8L2251.4 983.5L2251.9 1003.2L2251.4 1022.8L2252.3 1042.5L2256.5 1062.2L2257.8 1081.8L2261.8 1101.5L2265.7 1121.2L2265.2 1140.8L2257.4 1160.5L2261.6 1180.2L2262.8 1199.8L2261.4 1219.5L2253.5 1239.2L2254.5 1258.8L2256.3 1278.5L2258.0 1298.2L2273.3 1317.8L2278.0 1337.5L2302.3 1357.2L2288.6 1376.8L2275.9 1396.5L2278.5 1416.2L2273.6 1435.8L2263.2 1455.5L2280.1 1475.2L2302.2 1494.8L2324.9 1514.5L2328.5 1534.2L2323.9 1553.8L2326.5 1573.5L2331.1 1593.2L2338.1 1612.8L2343.9 1632.5L2352.6 1652.2L2315.7 1671.8L2350.1 1691.5L2368.0 1711.2L2372.0 1730.8L2380.0 1750.5L2372.0 1770.2L2380.0 1789.8L2378.0 1809.5L2384.0 1829.2L2389.0 1848.8L2418.0 1868.5L2440.0 1888.2" stroke="#86251f"/>
<path d="M2249.6 216.5L2249.6 236.2L2249.6 255.8L2249.6 275.5L2249.6 295.2L2249.6 314.8L2249.6 334.5L2249.6 354.2L2249.6 373.8L2249.6 393.5L2249.6 413.2L2249.6 432.8L2249.6 452.5L2249.6 472.2L2249.6 491.8L2249.6 511.5L2249.6 531.2L2249.6 550.8L2249.6 570.5L2249.6 590.2L2249.6 609.8L2249.6 629.5L2249.6 649.2L2249.6 668.8L2249.6 688.5L2249.6 708.2L2249.6 727.8L2249.6 747.5L2249.6 767.2L2249.6 786.8L2249.6 806.5L2249.6 826.2L2249.6 845.8L2249.6 865.5L2249.6 885.2L2250.4 904.8L2251.2 924.5L2252.0 944.2L2252.8 963.8L2253.8 983.5L2254.7 1003.2L2254.5 1022.8L2256.7 1042.5L2261.4 1062.2L2268.8 1081.8L2270.7 1101.5L2277.8 1121.2L2273.4 1140.8L2279.9 1160.5L2286.7 1180.2L2285.3 1199.8L2294.5 1219.5L2267.5 1239.2L2269.4 1258.8L2274.7 1278.5L2276.5 1298.2L2263.4 1317.8L2277.3 1337.5L2281.7 1357.2L2291.0 1376.8L2288.5 1396.5L2299.8 1416.2L2294.7 1435.8L2273.4 1455.5L2259.8 1475.2L2258.5 1494.8L2296.5 1514.5L2296.1 1534.2L2297.7 1553.8L2305.7 1573.5L2334.0 1593.2L2296.4 1612.8L2311.8 1632.5L2318.7 1652.2L2336.1 1671.8L2340.6 1691.5L2415.0 1711.2L2574.0 1730.8L2942.0 1750.5" stroke="#922b24"/>
<path d="M2249.5 216.5L2249.5 236.2L2249.5 255.8L2249.5 275.5L2249.5 295.2L2249.5 314.8L2249.5 334.5L2249.5 354.2L2249.5 373.8L2249.5 393.5L2249.5 413.2L2249.5 432.8L2249.5 452.5L2249.5 472.2L2249.5 491.8L2249.5 511.5L2249.5 531.2L2249.5 550.8L2249.5 570.5L2249.5 590.2L2249.5 609.8L2249.5 629.5L2249.5 649.2L2249.5 668.8L2249.5 688.5L2249.5 708.2L2249.5 727.8L2249.5 747.5L2249.5 767.2L2249.5 786.8L2249.5 806.5L2249.5 826.2L2249.5 845.8L2249.5 865.5L2249.5 885.2L2249.7 904.8L2250.0 924.5L2250.2 944.2L2250.7 963.8L2251.6 983.5L2250.2 1003.2L2250.1 1022.8L2251.7 1042.5L2253.8 1062.2L2250.2 1081.8L2254.4 1101.5L2259.3 1121.2L2255.2 1140.8L2259.0 1160.5L2258.6 1180.2L2262.3 1199.8L2267.1 1219.5L2268.8 1239.2L2285.2 1258.8L2284.5 1278.5L2291.9 1298.2L2303.9 1317.8L2300.3 1337.5L2308.4 1357.2L2306.6 1376.8L2292.0 1396.5L2321.2 1416.2L2326.9 1435.8L2332.6 1455.5L2332.7 1475.2L2330.0 1494.8L2328.1 1514.5L2343.3 1534.2L2342.3 1553.8L2344.8 1573.5L2339.3 1593.2L2339.4 1612.8L2361.2 1632.5L2370.7 1652.2L2378.3 1671.8L2392.0 1691.5L2380.0 1711.2L2390.0 1730.8L2385.0 1750.5L2392.0 1770.2L2395.0 1789.8L2480.0 1809.5L2820.0 1829.2L3499.0 1848.8" stroke="#9d322a"/>
<path d="M2249.6 216.5L2249.6 236.2L2249.6 255.8L2249.6 275.5L2249.6 295.2L2249.6 314.8L2249.6 334.5L2249.6 354.2L2249.6 373.8L2249.6 393.5L2249.6 413.2L2249.6 432.8L2249.6 452.5L2249.6 472.2L2249.6 491.8L2249.6 511.5L2249.6 531.2L2249.6 550.8L2249.6 570.5L2249.6 590.2L2249.6 609.8L2249.6 629.5L2249.6 649.2L2249.6 668.8L2249.6 688.5L2249.6 708.2L2249.6 727.8L2249.6 747.5L2249.6 767.2L2249.6 786.8L2249.6 806.5L2249.6 826.2L2249.6 845.8L2249.6 865.5L2249.6 885.2L2250.1 904.8L2250.6 924.5L2251.2 944.2L2251.4 963.8L2252.8 983.5L2252.7 1003.2L2253.6 1022.8L2253.1 1042.5L2255.3 1062.2L2263.1 1081.8L2261.4 1101.5L2265.4 1121.2L2266.9 1140.8L2266.3 1160.5L2272.0 1180.2L2268.0 1199.8L2262.2 1219.5L2270.7 1239.2L2263.5 1258.8L2275.5 1278.5L2288.1 1298.2L2303.9 1317.8L2304.8 1337.5L2298.6 1357.2L2294.3 1376.8L2282.5 1396.5L2297.1 1416.2L2302.7 1435.8L2295.5 1455.5L2303.5 1475.2L2297.2 1494.8L2317.6 1514.5L2329.5 1534.2L2342.3 1553.8L2344.8 1573.5L2351.8 1593.2L2347.4 1612.8L2361.2 1632.5L2370.2 1652.2L2384.0 1671.8L2392.0 1691.5L2350.0 1711.2L2362.0 1730.8L2352.0 1750.5L2345.0 1770.2L2335.0 1789.8L2320.0 1809.5L2470.6 1829.2L2254.5 1848.8L2325.0 1868.5L2390.0 1888.2" stroke="#a8382f"/>
<path d="M2249.6 216.5L2249.6 236.2L2249.6 255.8L2249.6 275.5L2249.6 295.2L2249.6 314.8L2249.6 334.5L2249.6 354.2L2249.6 373.8L2249.6 393.5L2249.6 413.2L2249.6 432.8L2249.6 452.5L2249.6 472.2L2249.6 491.8L2249.6 511.5L2249.6 531.2L2249.6 550.8L2249.6 570.5L2249.6 590.2L2249.6 609.8L2249.6 629.5L2249.6 649.2L2249.6 668.8L2249.6 688.5L2249.6 708.2L2249.6 727.8L2249.6 747.5L2249.6 767.2L2249.6 786.8L2249.6 806.5L2249.6 826.2L2249.6 845.8L2249.6 865.5L2249.6 885.2L2250.5 904.8L2251.4 924.5L2252.3 944.2L2252.6 963.8L2253.5 983.5L2254.9 1003.2L2255.7 1022.8L2257.3 1042.5L2263.2 1062.2L2267.4 1081.8L2271.4 1101.5L2277.8 1121.2L2280.7 1140.8L2280.6 1160.5L2286.7 1180.2L2290.6 1199.8L2294.5 1219.5L2289.2 1239.2L2277.8 1258.8L2280.3 1278.5L2259.1 1298.2L2279.0 1317.8L2282.1 1337.5L2306.1 1357.2L2302.3 1376.8L2311.4 1396.5L2284.0 1416.2L2273.0 1435.8L2283.7 1455.5L2289.4 1475.2L2290.4 1494.8L2290.0 1514.5L2310.5 1534.2L2316.8 1553.8L2336.0 1573.5L2351.8 1593.2L2341.3 1612.8L2361.2 1632.5L2373.2 1652.2L2364.6 1671.8L2383.5 1691.5L2395.0 1711.2L2400.0 1730.8L2432.0 1750.5L2510.0 1770.2L2392.0 1789.8L2500.0 1809.5L2833.0 1829.2" stroke="#b43e34"/>
<path d="M2249.5 216.5L2249.5 236.2L2249.5 255.8L2249.5 275.5L2249.5 295.2L2249.5 314.8L2249.5 334.5L2249.5 354.2L2249.5 373.8L2249.5 393.5L2249.5 413.2L2249.5 432.8L2249.5 452.5L2249.5 472.2L2249.5 491.8L2249.5 511.5L2249.5 531.2L2249.5 550.8L2249.5 570.5L2249.5 590.2L2249.5 609.8L2249.5 629.5L2249.5 649.2L2249.5 668.8L2249.5 688.5L2249.5 708.2L2249.5 727.8L2249.5 747.5L2249.5 767.2L2249.5 786.8L2249.5 806.5L2249.5 826.2L2249.5 845.8L2249.5 865.5L2249.5 885.2L2249.8 904.8L2250.2 924.5L2250.5 944.2L2250.8 963.8L2250.1 983.5L2251.3 1003.2L2251.2 1022.8L2251.4 1042.5L2255.1 1062.2L2252.7 1081.8L2260.3 1101.5L2257.3 1121.2L2255.8 1140.8L2257.4 1160.5L2270.7 1180.2L2269.6 1199.8L2261.6 1219.5L2271.8 1239.2L2291.6 1258.8L2286.2 1278.5L2286.8 1298.2L2300.7 1317.8L2304.8 1337.5L2311.5 1357.2L2322.5 1376.8L2324.4 1396.5L2322.8 1416.2L2326.9 1435.8L2332.6 1455.5L2332.7 1475.2L2330.0 1494.8L2328.1 1514.5L2342.7 1534.2L2342.3 1553.8L2344.8 1573.5L2351.8 1593.2L2322.2 1612.8L2323.7 1632.5L2315.9 1652.2L2333.8 1671.8L2378.0 1691.5L2320.0 1691.5L2296.4 1711.2L2325.4 1730.8L2296.4 1750.5L2322.8 1770.2L2377.0 1789.8L2402.0 1809.5L2402.0 1829.2L2426.0 1848.8L2419.0 1868.5L2415.0 1888.2" stroke="#bf4539"/>
<path d="M2249.6 216.5L2249.6 236.2L2249.6 255.8L2249.6 275.5L2249.6 295.2L2249.6 314.8L2249.6 334.5L2249.6 354.2L2249.6 373.8L2249.6 393.5L2249.6 413.2L2249.6 432.8L2249.6 452.5L2249.6 472.2L2249.6 491.8L2249.6 511.5L2249.6 531.2L2249.6 550.8L2249.6 570.5L2249.6 590.2L2249.6 609.8L2249.6 629.5L2249.6 649.2L2249.6 668.8L2249.6 688.5L2249.6 708.2L2249.6 727.8L2249.6 747.5L2249.6 767.2L2249.6 786.8L2249.6 806.5L2249.6 826.2L2249.6 845.8L2249.6 865.5L2249.6 885.2L2250.3 904.8L2251.0 924.5L2251.7 944.2L2251.8 963.8L2252.8 983.5L2253.9 1003.2L2254.5 1022.8L2256.5 1042.5L2260.3 1062.2L2260.4 1081.8L2271.1 1101.5L2269.6 1121.2L2269.7 1140.8L2275.1 1160.5L2273.3 1180.2L2283.5 1199.8L2273.3 1219.5L2289.2 1239.2L2288.0 1258.8L2285.5 1278.5L2280.1 1298.2L2260.7 1317.8L2268.5 1337.5L2281.7 1357.2L2280.1 1376.8L2270.5 1396.5L2265.0 1416.2L2281.0 1435.8L2270.7 1455.5L2265.5 1475.2L2277.3 1494.8L2291.0 1514.5L2292.1 1534.2L2300.7 1553.8L2303.5 1573.5L2291.4 1593.2L2286.0 1612.8L2341.0 1632.5L2353.2 1652.2L2322.6 1671.8L2342.1 1691.5L2400.0 1711.2L2458.8 1730.8L2395.0 1750.5L2388.0 1770.2L2385.0 1789.8L2440.0 1809.5L2483.0 1829.2L2436.0 1848.8" stroke="#ca4b3e"/>
<path d="M2249.5 216.5L2249.5 236.2L2249.5 255.8L2249.5 275.5L2249.5 295.2L2249.5 314.8L2249.5 334.5L2249.5 354.2L2249.5 373.8L2249.5 393.5L2249.5 413.2L2249.5 432.8L2249.5 452.5L2249.5 472.2L2249.5 491.8L2249.5 511.5L2249.5 531.2L2249.5 550.8L2249.5 570.5L2249.5 590.2L2249.5 609.8L2249.5 629.5L2249.5 649.2L2249.5 668.8L2249.5 688.5L2249.5 708.2L2249.5 727.8L2249.5 747.5L2249.5 767.2L2249.5 786.8L2249.5 806.5L2249.5 826.2L2249.5 845.8L2249.5 865.5L2249.5 885.2L2249.6 904.8L2249.8 924.5L2249.9 944.2L2250.2 963.8L2249.8 983.5L2251.2 1003.2L2250.0 1022.8L2250.8 1042.5L2252.4 1062.2L2252.1 1081.8L2255.2 1101.5L2254.1 1121.2L2259.1 1140.8L2255.6 1160.5L2255.5 1180.2L2251.7 1199.8L2262.5 1219.5L2272.3 1239.2L2279.2 1258.8L2272.4 1278.5L2268.8 1298.2L2272.0 1317.8L2278.5 1337.5L2281.7 1357.2L2302.2 1376.8L2297.6 1396.5L2296.4 1416.2L2287.6 1435.8L2288.4 1455.5L2329.5 1475.2L2309.1 1494.8L2312.9 1514.5L2307.3 1534.2L2295.7 1553.8L2320.5 1573.5L2316.2 1593.2L2304.0 1612.8L2308.7 1632.5L2300.7 1652.2L2304.9 1671.8L2320.0 1691.5L2372.0 1711.2L2400.0 1730.8L2420.0 1750.5L2507.6 1770.2L3016.3 1789.8" stroke="#d55144"/>
<path d="M2249.6 216.5L2249.6 236.2L2249.6 255.8L2249.6 275.5L2249.6 295.2L2249.6 314.8L2249.6 334.5L2249.6 354.2L2249.6 373.8L2249.6 393.5L2249.6 413.2L2249.6 432.8L2249.6 452.5L2249.6 472.2L2249.6 491.8L2249.6 511.5L2249.6 531.2L2249.6 550.8L2249.6 570.5L2249.6 590.2L2249.6 609.8L2249.6 629.5L2249.6 649.2L2249.6 668.8L2249.6 688.5L2249.6 708.2L2249.6 727.8L2249.6 747.5L2249.6 767.2L2249.6 786.8L2249.6 806.5L2249.6 826.2L2249.6 845.8L2249.6 865.5L2249.6 885.2L2250.0 904.8L2250.4 924.5L2250.9 944.2L2250.9 963.8L2251.4 983.5L2253.1 1003.2L2252.1 1022.8L2253.1 1042.5L2257.7 1062.2L2258.7 1081.8L2259.5 1101.5L2267.7 1121.2L2265.8 1140.8L2263.5 1160.5L2265.9 1180.2L2273.7 1199.8L2267.9 1219.5L2268.8 1239.2L2280.7 1258.8L2297.3 1278.5L2278.5 1298.2L2277.4 1317.8L2279.5 1337.5L2293.1 1357.2L2303.9 1376.8L2318.4 1396.5L2310.0 1416.2L2291.7 1435.8L2298.2 1455.5L2284.7 1475.2L2321.9 1494.8L2329.9 1514.5L2343.3 1534.2L2342.3 1553.8L2335.4 1573.5L2337.1 1593.2L2330.6 1612.8L2356.8 1632.5L2373.2 1652.2L2384.0 1671.8L2392.0 1691.5L2370.0 1711.2L2385.0 1730.8L2380.0 1750.5L2372.0 1770.2L2380.0 1789.8L2436.0 1809.5L2539.7 1829.2L2646.5 1848.8L2506.0 1868.5L2370.0 1888.2" stroke="#e15849"/>
<path d="M2249.5 216.5L2249.5 236.2L2249.5 255.8L2249.5 275.5L2249.5 295.2L2249.5 314.8L2249.5 334.5L2249.5 354.2L2249.5 373.8L2249.5 393.5L2249.5 413.2L2249.5 432.8L2249.5 452.5L2249.5 472.2L2249.5 491.8L2249.5 511.5L2249.5 531.2L2249.5 550.8L2249.5 570.5L2249.5 590.2L2249.5 609.8L2249.5 629.5L2249.5 649.2L2249.5 668.8L2249.5 688.5L2249.5 708.2L2249.5 727.8L2249.5 747.5L2249.5 767.2L2249.5 786.8L2249.5 806.5L2249.5 826.2L2249.5 845.8L2249.5 865.5L2249.5 885.2L2249.5 904.8L2249.5 924.5L2249.5 944.2L2249.5 963.8L2249.5 983.5L2250.1 1003.2L2249.5 1022.8L2249.7 1042.5L2251.5 1062.2L2252.0 1081.8L2249.5 1101.5L2249.1 1121.2L2253.0 1140.8L2251.7 1160.5L2250.1 1180.2L2252.5 1199.8L2249.5 1219.5L2249.5 1239.2L2250.4 1258.8L2251.7 1278.5L2253.0 1298.2L2266.3 1317.8L2284.7 1337.5L2296.7 1357.2L2299.2 1376.8L2294.7 1396.5L2291.0 1416.2L2289.0 1435.8L2299.0 1455.5L2246.8 1475.2L2246.8 1494.8L2299.0 1514.5L2348.6 1534.2L2321.3 1553.8L2338.7 1573.5L2328.8 1593.2L2308.9 1612.8L2351.0 1632.5L2342.0 1652.2L2345.0 1671.8L2355.0 1691.5L2365.0 1711.2L2378.0 1730.8L2388.0 1750.5L2370.0 1770.2L2377.0 1789.8L2400.0 1809.5L2834.8 1848.8L2483.0 1868.5L2130.0 1888.2" stroke="#ec5e4e"/>
</g></g>
<rect x="2138.4" y="216.5" width="1222.1" height="1652.0" fill="none" stroke="#fff" stroke-width="5"/>
<path d="M2126.4 1789.8H2138.4" stroke="#fff" stroke-width="3"/>
<text x="2067.1" y="1806.0" font-size="45.5" stroke="#fff" stroke-width="0.77" textLength="45.4" lengthAdjust="spacingAndGlyphs">10</text>
<path d="M2126.4 1593.2H2138.4" stroke="#fff" stroke-width="3"/>
<text x="2067.1" y="1609.4" font-size="45.5" stroke="#fff" stroke-width="0.77" textLength="45.4" lengthAdjust="spacingAndGlyphs">15</text>
<path d="M2126.4 1396.5H2138.4" stroke="#fff" stroke-width="3"/>
<text x="2062.4" y="1412.7" font-size="45.5" stroke="#fff" stroke-width="0.77" textLength="50.1" lengthAdjust="spacingAndGlyphs">20</text>
<path d="M2126.4 1199.8H2138.4" stroke="#fff" stroke-width="3"/>
<text x="2062.4" y="1216.0" font-size="45.5" stroke="#fff" stroke-width="0.77" textLength="50.1" lengthAdjust="spacingAndGlyphs">25</text>
<path d="M2126.4 1003.2H2138.4" stroke="#fff" stroke-width="3"/>
<text x="2062.4" y="1019.4" font-size="45.5" stroke="#fff" stroke-width="0.77" textLength="50.1" lengthAdjust="spacingAndGlyphs">30</text>
<path d="M2126.4 806.5H2138.4" stroke="#fff" stroke-width="3"/>
<text x="2062.4" y="822.7" font-size="45.5" stroke="#fff" stroke-width="0.77" textLength="50.1" lengthAdjust="spacingAndGlyphs">35</text>
<path d="M2126.4 609.8H2138.4" stroke="#fff" stroke-width="3"/>
<text x="2062.4" y="626.0" font-size="45.5" stroke="#fff" stroke-width="0.77" textLength="50.1" lengthAdjust="spacingAndGlyphs">40</text>
<path d="M2126.4 413.2H2138.4" stroke="#fff" stroke-width="3"/>
<text x="2062.4" y="429.4" font-size="45.5" stroke="#fff" stroke-width="0.77" textLength="50.1" lengthAdjust="spacingAndGlyphs">45</text>
<path d="M2126.4 216.5H2138.4" stroke="#fff" stroke-width="3"/>
<text x="2062.4" y="232.7" font-size="45.5" stroke="#fff" stroke-width="0.77" textLength="50.1" lengthAdjust="spacingAndGlyphs">50</text>
<path d="M2249.5 1868.5V1880.5" stroke="#fff" stroke-width="3"/>
<text x="2190.1" y="1927.0" font-size="45.5" stroke="#fff" stroke-width="0.77" textLength="118.8" lengthAdjust="spacingAndGlyphs">0.000</text>
<path d="M2471.7 1868.5V1880.5" stroke="#fff" stroke-width="3"/>
<text x="2413.9" y="1927.0" font-size="45.5" stroke="#fff" stroke-width="0.77" textLength="115.7" lengthAdjust="spacingAndGlyphs">0.002</text>
<path d="M2693.9 1868.5V1880.5" stroke="#fff" stroke-width="3"/>
<text x="2634.4" y="1927.0" font-size="45.5" stroke="#fff" stroke-width="0.77" textLength="119.0" lengthAdjust="spacingAndGlyphs">0.004</text>
<path d="M2916.1 1868.5V1880.5" stroke="#fff" stroke-width="3"/>
<text x="2857.7" y="1927.0" font-size="45.5" stroke="#fff" stroke-width="0.77" textLength="116.8" lengthAdjust="spacingAndGlyphs">0.006</text>
<path d="M3138.3 1868.5V1880.5" stroke="#fff" stroke-width="3"/>
<text x="3079.9" y="1927.0" font-size="45.5" stroke="#fff" stroke-width="0.77" textLength="116.8" lengthAdjust="spacingAndGlyphs">0.008</text>
<path d="M3360.5 1868.5V1880.5" stroke="#fff" stroke-width="3"/>
<text x="3303.4" y="1927.0" font-size="45.5" stroke="#fff" stroke-width="0.77" textLength="114.1" lengthAdjust="spacingAndGlyphs">0.010</text>
<text x="2318.5" y="2001.0" font-size="59" stroke="#fff" stroke-width="1.0" textLength="215.3" lengthAdjust="spacingAndGlyphs">Aerosol</text>
<text x="2557.6" y="2001.0" font-size="59" stroke="#fff" stroke-width="1.0" textLength="282.8" lengthAdjust="spacingAndGlyphs">Extinction</text>
<text x="2862.3" y="2001.0" font-size="59" stroke="#fff" stroke-width="1.0" textLength="316.7" lengthAdjust="spacingAndGlyphs">Coefficient</text>
<text x="2656.1" y="2077.0" font-size="59" stroke="#fff" stroke-width="1.0" textLength="106.7" lengthAdjust="spacingAndGlyphs">[km</text>
<text x="2770.7" y="2054" font-size="40" font-family="'Liberation Serif','DejaVu Serif',serif" textLength="44" lengthAdjust="spacingAndGlyphs">−1</text>
<text x="2827.7" y="2077.0" font-size="59" stroke="#fff" stroke-width="1.0" textLength="16.3" lengthAdjust="spacingAndGlyphs">]</text>
<text transform="translate(2025.2,1232.7) rotate(-90)" x="0.0" y="0" font-size="59" stroke="#fff" stroke-width="1.0" textLength="216.9" lengthAdjust="spacingAndGlyphs">Altitude</text>
<text transform="translate(2025.2,1232.7) rotate(-90)" x="248.8" y="0" font-size="59" stroke="#fff" stroke-width="1.0" textLength="128.2" lengthAdjust="spacingAndGlyphs">[km]</text>
</g>
<g id="legend-sunrise">
<rect x="13.7" y="877.5" width="424.4" height="660" rx="6" fill="#000" stroke="#b4b4b4" stroke-width="3"/>
<path d="M24.1 908.8H113.9" stroke="#084466" stroke-width="10"/>
<text x="142.9" y="922.9" font-size="39.5" stroke="#fff" stroke-width="0.67" textLength="274.5" lengthAdjust="spacingAndGlyphs">2024031502SR</text>
<path d="M24.1 967.8H113.9" stroke="#094c71" stroke-width="10"/>
<text x="142.9" y="981.9" font-size="39.5" stroke="#fff" stroke-width="0.67" textLength="274.5" lengthAdjust="spacingAndGlyphs">2024031506SR</text>
<path d="M24.1 1026.9H113.9" stroke="#0a537b" stroke-width="10"/>
<text x="142.9" y="1041.0" font-size="39.5" stroke="#fff" stroke-width="0.67" textLength="274.5" lengthAdjust="spacingAndGlyphs">2024031508SR</text>
<path d="M24.1 1085.9H113.9" stroke="#0a5b86" stroke-width="10"/>
<text x="142.9" y="1100.0" font-size="39.5" stroke="#fff" stroke-width="0.67" textLength="270.5" lengthAdjust="spacingAndGlyphs">2024031512SR</text>
<path d="M24.1 1145.0H113.9" stroke="#0b6290" stroke-width="10"/>
<text x="142.9" y="1159.1" font-size="39.5" stroke="#fff" stroke-width="0.67" textLength="270.5" lengthAdjust="spacingAndGlyphs">2024031514SR</text>
<path d="M24.1 1204.0H113.9" stroke="#0c6a9b" stroke-width="10"/>
<text x="142.9" y="1218.1" font-size="39.5" stroke="#fff" stroke-width="0.67" textLength="270.5" lengthAdjust="spacingAndGlyphs">2024031516SR</text>
<path d="M24.1 1263.1H113.9" stroke="#0d72a6" stroke-width="10"/>
<text x="142.9" y="1277.2" font-size="39.5" stroke="#fff" stroke-width="0.67" textLength="270.5" lengthAdjust="spacingAndGlyphs">2024031518SR</text>
<path d="M24.1 1322.1H113.9" stroke="#0e79b0" stroke-width="10"/>
<text x="142.9" y="1336.2" font-size="39.5" stroke="#fff" stroke-width="0.67" textLength="274.5" lengthAdjust="spacingAndGlyphs">2024031522SR</text>
<path d="M24.1 1381.2H113.9" stroke="#0e81bb" stroke-width="10"/>
<text x="142.9" y="1395.3" font-size="39.5" stroke="#fff" stroke-width="0.67" textLength="274.5" lengthAdjust="spacingAndGlyphs">2024031526SR</text>
<path d="M24.1 1440.2H113.9" stroke="#0f88c5" stroke-width="10"/>
<text x="142.9" y="1454.3" font-size="39.5" stroke="#fff" stroke-width="0.67" textLength="274.5" lengthAdjust="spacingAndGlyphs">2024031528SR</text>
<path d="M24.1 1499.3H113.9" stroke="#1090d0" stroke-width="10"/>
<text x="142.9" y="1513.4" font-size="39.5" stroke="#fff" stroke-width="0.67" textLength="274.5" lengthAdjust="spacingAndGlyphs">2024031530SR</text>
</g><g id="legend-sunset">
<rect x="3381.5" y="761.5" width="421" height="894.5" rx="6" fill="#000" stroke="#b4b4b4" stroke-width="3"/>
<path d="M3391 790.6H3481.3" stroke="#4e0505" stroke-width="10"/>
<text x="3510.5" y="804.7" font-size="39.5" stroke="#fff" stroke-width="0.67" textLength="271.0" lengthAdjust="spacingAndGlyphs">2024031501SS</text>
<path d="M3391 849.6H3481.3" stroke="#590b0a" stroke-width="10"/>
<text x="3510.5" y="863.7" font-size="39.5" stroke="#fff" stroke-width="0.67" textLength="271.0" lengthAdjust="spacingAndGlyphs">2024031503SS</text>
<path d="M3391 908.7H3481.3" stroke="#65120f" stroke-width="10"/>
<text x="3510.5" y="922.8" font-size="39.5" stroke="#fff" stroke-width="0.67" textLength="271.0" lengthAdjust="spacingAndGlyphs">2024031505SS</text>
<path d="M3391 967.7H3481.3" stroke="#701815" stroke-width="10"/>
<text x="3510.5" y="981.8" font-size="39.5" stroke="#fff" stroke-width="0.67" textLength="271.0" lengthAdjust="spacingAndGlyphs">2024031507SS</text>
<path d="M3391 1026.7H3481.3" stroke="#7b1e1a" stroke-width="10"/>
<text x="3510.5" y="1040.8" font-size="39.5" stroke="#fff" stroke-width="0.67" textLength="271.0" lengthAdjust="spacingAndGlyphs">2024031509SS</text>
<path d="M3391 1085.8H3481.3" stroke="#86251f" stroke-width="10"/>
<text x="3510.5" y="1099.8" font-size="39.5" stroke="#fff" stroke-width="0.67" textLength="267.0" lengthAdjust="spacingAndGlyphs">2024031511SS</text>
<path d="M3391 1144.8H3481.3" stroke="#922b24" stroke-width="10"/>
<text x="3510.5" y="1158.9" font-size="39.5" stroke="#fff" stroke-width="0.67" textLength="267.0" lengthAdjust="spacingAndGlyphs">2024031513SS</text>
<path d="M3391 1203.8H3481.3" stroke="#9d322a" stroke-width="10"/>
<text x="3510.5" y="1217.9" font-size="39.5" stroke="#fff" stroke-width="0.67" textLength="267.0" lengthAdjust="spacingAndGlyphs">2024031515SS</text>
<path d="M3391 1262.8H3481.3" stroke="#a8382f" stroke-width="10"/>
<text x="3510.5" y="1276.9" font-size="39.5" stroke="#fff" stroke-width="0.67" textLength="267.0" lengthAdjust="spacingAndGlyphs">2024031517SS</text>
<path d="M3391 1321.9H3481.3" stroke="#b43e34" stroke-width="10"/>
<text x="3510.5" y="1336.0" font-size="39.5" stroke="#fff" stroke-width="0.67" textLength="267.0" lengthAdjust="spacingAndGlyphs">2024031519SS</text>
<path d="M3391 1380.9H3481.3" stroke="#bf4539" stroke-width="10"/>
<text x="3510.5" y="1395.0" font-size="39.5" stroke="#fff" stroke-width="0.67" textLength="269.5" lengthAdjust="spacingAndGlyphs">2024031521SS</text>
<path d="M3391 1439.9H3481.3" stroke="#ca4b3e" stroke-width="10"/>
<text x="3510.5" y="1454.0" font-size="39.5" stroke="#fff" stroke-width="0.67" textLength="269.5" lengthAdjust="spacingAndGlyphs">2024031523SS</text>
<path d="M3391 1499.0H3481.3" stroke="#d55144" stroke-width="10"/>
<text x="3510.5" y="1513.1" font-size="39.5" stroke="#fff" stroke-width="0.67" textLength="269.5" lengthAdjust="spacingAndGlyphs">2024031525SS</text>
<path d="M3391 1558.0H3481.3" stroke="#e15849" stroke-width="10"/>
<text x="3510.5" y="1572.1" font-size="39.5" stroke="#fff" stroke-width="0.67" textLength="269.5" lengthAdjust="spacingAndGlyphs">2024031527SS</text>
<path d="M3391 1617.0H3481.3" stroke="#ec5e4e" stroke-width="10"/>
<text x="3510.5" y="1631.1" font-size="39.5" stroke="#fff" stroke-width="0.67" textLength="269.5" lengthAdjust="spacingAndGlyphs">2024031529SS</text>
</g><g id="legend-tropopause">
<path d="M39.6 1979.7H120" stroke="#fff" stroke-width="10" stroke-dasharray="37 16"/>
<text x="154.9" y="1994.0" font-size="39.5" stroke="#fff" stroke-width="0.67" textLength="102.5" lengthAdjust="spacingAndGlyphs">Mean</text>
<text x="272.5" y="1994.0" font-size="39.5" stroke="#fff" stroke-width="0.67" textLength="227.1" lengthAdjust="spacingAndGlyphs">Tropopause</text>
<path d="M39.6 2039.6H120" stroke="#fff" stroke-width="10" stroke-dasharray="10 16.5"/>
<text x="154.9" y="2053.9" font-size="39.5" stroke="#fff" stroke-width="0.67" textLength="138.6" lengthAdjust="spacingAndGlyphs">Median</text>
<text x="308.6" y="2053.9" font-size="39.5" stroke="#fff" stroke-width="0.67" textLength="227.2" lengthAdjust="spacingAndGlyphs">Tropopause</text>
<rect x="40.3" y="2085.4" width="80.3" height="28" fill="#686c73" stroke="#9a9da2" stroke-width="2.5"/>
<text x="152.6" y="2113.3" font-size="39.5" stroke="#fff" stroke-width="0.67" textLength="228.3" lengthAdjust="spacingAndGlyphs">Tropopause</text>
<text x="398.3" y="2113.3" font-size="39.5" stroke="#fff" stroke-width="0.67" textLength="120.0" lengthAdjust="spacingAndGlyphs">Range</text>
</g>
<g id="credits">
<text y="2038.4" font-size="32.5" stroke="#808080" stroke-width="0.55" fill="#808080"><tspan x="3269.0" textLength="80.6" lengthAdjust="spacingAndGlyphs">SAGE</tspan> <tspan x="3368.9" font-family="'Liberation Mono','DejaVu Sans Mono',monospace" stroke-width="1.3" font-size="35" textLength="46.0" lengthAdjust="spacingAndGlyphs">III</tspan><tspan x="3415.7" dy="4" font-family="'Liberation Mono','DejaVu Sans Mono',monospace" stroke-width="1.3" font-size="38" textLength="20.3" lengthAdjust="spacingAndGlyphs">/</tspan><tspan x="3437.3" dy="-4" textLength="52.1" lengthAdjust="spacingAndGlyphs">ISS</tspan> <tspan x="3501.9" textLength="115.5" lengthAdjust="spacingAndGlyphs">Mission</tspan> <tspan x="3630.0" textLength="5.8" lengthAdjust="spacingAndGlyphs">|</tspan> <tspan x="3648.4" textLength="89.5" lengthAdjust="spacingAndGlyphs">NASA</tspan> <tspan x="3750.3" textLength="87.0" lengthAdjust="spacingAndGlyphs">LaRC</tspan></text>
<text x="3314.3" y="2076.9" font-size="32.5" fill="#808080" stroke="#808080" stroke-width="0.55" textLength="523.0" lengthAdjust="spacingAndGlyphs">Preparer: Kevin R. Leavor (AMA)</text>
<text x="3390.0" y="2112.9" font-size="32.5" fill="#808080" stroke="#808080" stroke-width="0.55" textLength="447.3" lengthAdjust="spacingAndGlyphs">Generated 2025-07-17 22:25</text>
<text x="3535.4" y="2150.2" font-size="32.5" fill="#808080" stroke="#808080" stroke-width="0.55" textLength="301.9" lengthAdjust="spacingAndGlyphs">Data Version: 6.0.0</text>
</g>
<g id="logo">
<defs><clipPath id="ringclip"><circle cx="3662.3" cy="219.5" r="124.6"/></clipPath>
<path id="arcpath" d="M3509.2 258.3 A157.6 157.6 0 0 0 3819.1 236.4"/>
</defs>
<path d="M3494 223.4V50A32 32 0 0 1 3526 18H3798A32 32 0 0 1 3830 50V223.4A168 168 0 0 1 3494 223.4Z" fill="#ec5d4e"/>
<path d="M3500.3 223.4V50A25.7 25.7 0 0 1 3526 24.3H3798A25.7 25.7 0 0 1 3823.7 50V223.4A161.7 161.7 0 0 1 3500.3 223.4Z" fill="#05588c"/>
<circle cx="3662.3" cy="219.5" r="140.4" fill="#ccd0dc"/>
<circle cx="3662.3" cy="219.5" r="124.6" fill="#044f83"/>
<g clip-path="url(#ringclip)">
<circle cx="3236.5" cy="558.5" r="565" fill="#1470ad"/>
<circle cx="3236.5" cy="558.5" r="549.5" fill="#05578d"/>
<polygon fill="#5ca06e" points="3600,182 3610,177 3622,174 3634,179 3645,187 3652,190 3661,203 3668,214 3665,232 3662,251 3668,263 3655,261 3644,272 3642,284 3650,297 3661,302 3666,311 3681,313 3695,293 3709,292 3726,317 3733,326 3712,345 3695,348 3695,316 3684,317 3661,312 3640,315 3622,302 3608,290 3600,290"/>
<path d="M3621 200l7 -2 5 4 5 -3 5 6 -2 5 4 7 -3 7 -5 -3 -2 -9 -5 4 -3 -7 -4 5 -4 -8zM3643 197l7 3 4 9 -3 9 -3 9 -4 -8 1 -9 -4 -6z" fill="#05578d"/>
<g stroke="#e8f3ff" stroke-width="0.9" fill="none">
<path d="M3605.5 153.5A547.9 547.9 0 0 1 3745 352"/>
<path d="M3716.2 192.7L3656 160M3716.2 192.7L3646 167.5"/>
<path d="M3716.2 192.7L3670 227M3716.2 192.7L3674.3 234"/>
<path d="M3716.2 192.7L3722 258M3716.2 192.7L3733.5 258"/>
</g>
<circle cx="3637.2" cy="145.9" r="23.8" fill="#b9bfcc"/>
<circle cx="3638.6" cy="144.6" r="22.3" fill="#e6e9ef"/>
<path d="M3626 133q6 -7 12 -4q2 6 -4 9q-1 7 -7 8q-5 -5 -1 -13zM3641 138q7 -5 12 0q1 6 -5 7q-6 -1 -7 -7zM3640 150q6 -2 8 3q-1 6 -7 6q-4 -4 -1 -9z" fill="#b4bac8"/>
<circle cx="3735" cy="281" r="23.2" fill="#cfd3dd"/>
<circle cx="3738" cy="279.5" r="21.5" fill="#fcd98c"/>
<path d="M3693.4 107.8L3694.76 114.94L3701.9 116.3L3694.76 117.66L3693.4 124.8L3692.04 117.66L3684.9 116.3L3692.04 114.94Z" fill="#fff1c4"/>
<path d="M3680.1 122.0L3680.98 126.62L3685.6 127.5L3680.98 128.38L3680.1 133.0L3679.22 128.38L3674.6 127.5L3679.22 126.62Z" fill="#f4f8ff"/>
<path d="M3703.6 126.7L3704.288 130.312L3707.9 131L3704.288 131.688L3703.6 135.3L3702.912 131.688L3699.2999999999997 131L3702.912 130.312Z" fill="#f4f8ff"/>
<g transform="translate(3728.5,179.4) rotate(45)">
<rect x="-27.1" y="-18.5" width="1.5" height="37" fill="#c6c9d2"/>
<rect x="-24.8" y="-18.5" width="1.5" height="37" fill="#c6c9d2"/>
<rect x="-22.5" y="-18.5" width="1.5" height="37" fill="#c6c9d2"/>
<rect x="-20.2" y="-18.5" width="1.5" height="37" fill="#c6c9d2"/>
<rect x="-17.9" y="-18.5" width="1.5" height="37" fill="#c6c9d2"/>
<rect x="-15.6" y="-18.5" width="1.5" height="37" fill="#c6c9d2"/>
<rect x="-28.0" y="-0.8" width="15" height="1.6" fill="#e9ebef"/>
<rect x="13.9" y="-18.5" width="1.5" height="37" fill="#c6c9d2"/>
<rect x="16.2" y="-18.5" width="1.5" height="37" fill="#c6c9d2"/>
<rect x="18.5" y="-18.5" width="1.5" height="37" fill="#c6c9d2"/>
<rect x="20.8" y="-18.5" width="1.5" height="37" fill="#c6c9d2"/>
<rect x="23.1" y="-18.5" width="1.5" height="37" fill="#c6c9d2"/>
<rect x="25.4" y="-18.5" width="1.5" height="37" fill="#c6c9d2"/>
<rect x="13.0" y="-0.8" width="15" height="1.6" fill="#e9ebef"/>
<rect x="-14" y="-1.3" width="28" height="2.6" fill="#dfe2e8"/>
<rect x="-8.5" y="-9" width="2.4" height="16" fill="#eef0f4"/><rect x="-3.2" y="-11" width="2.4" height="20" fill="#eef0f4"/><rect x="2.2" y="-9" width="2.4" height="17" fill="#eef0f4"/><rect x="7" y="-6" width="2" height="11" fill="#eef0f4"/>
<rect x="-10" y="-6.2" width="12" height="1.6" fill="#eef0f4"/><rect x="-4" y="4.2" width="12" height="1.6" fill="#eef0f4"/>
</g>
</g>
<polygon points="3528.1,169.1 3519.1,182.6 3515.5,214.9 3510.1,231.0 3502.9,241.8 3507.4,243.6 3537.0,223.8 3549.6,207.7 3544.2,196.9 3529.9,186.1" fill="#a5302a"/>
<polygon points="3523.6,175.4 3517.3,207.7 3506.5,240.0 3511.9,238.2 3526.3,218.4 3529.9,189.7" fill="#d84a3c"/>
<polygon points="3546.0,153.8 3561.3,147.0 3578.3,153.8 3599.9,171.8 3608.8,177.2 3616.9,179.0 3614.2,193.3 3607.0,197.8 3602.6,207.7 3603.8,232.8 3605.6,279.5 3608.8,333.3 3592.7,320.7 3578.3,308.2 3564.0,295.6 3556.8,279.5 3546.0,254.3 3538.8,238.2 3551.4,214.9 3544.2,196.9 3529.9,186.1 3528.1,171.8" fill="#c83c2f"/>
<polygon points="3585.5,225.6 3602.6,223.8 3605.6,279.5 3608.8,333.3 3599.9,326.5 3594.5,279.5" fill="#ea5f4f"/>
<polygon points="3553.2,225.6 3564.0,223.8 3574.7,279.5 3585.5,313.6 3578.3,308.2 3564.0,279.5" fill="#e2574a"/>
<polygon points="3569.4,229.2 3578.3,228.3 3590.9,319.0 3585.5,314.5" fill="#9e2c25"/>
<polygon points="3546.9,154.7 3562.2,148.1 3578.3,159.2 3582.8,186.1 3596.3,190.6 3608.8,189.7 3599.9,196.9 3581.9,193.3 3565.8,184.4 3553.2,171.8" fill="#d9493b"/>
<path d="M3555.4,207.3L3571.1,213.1L3587.3,217.6L3602.6,223.8" stroke="#8a4a22" stroke-width="4.5" fill="none"/>
<polygon points="3587.3,218.4 3591.8,214.9 3599.9,216.7 3602.6,223.8 3598.1,231.0 3590.0,229.2" fill="#7a3a1c"/>
<polygon points="3590.0,220.6 3593.0,218.1 3598.1,219.2 3599.9,223.8 3597.0,228.1 3592.0,227.1" fill="#b5652d"/>
<path d="M3535.3,123.3L3544.2,193.3L3546.9,225.6L3554.1,257.9L3561.3,268.7L3564.0,294.7" stroke="#8b4d1e" stroke-width="5.2" fill="none" stroke-linecap="round" stroke-linejoin="round"/>
<path d="M3534.9,123.3L3543.9,193.3L3546.6,225.6L3553.7,257.9L3560.9,268.7L3563.6,294.7" stroke="#c98646" stroke-width="2" fill="none" stroke-linecap="round" stroke-linejoin="round"/>
<circle cx="3533.1" cy="113.5" r="10.6" fill="#aeb4c2"/><circle cx="3534" cy="112.8" r="8.8" fill="#dfe3ea"/>
<polygon points="3529.0,177.2 3538.8,173.6 3547.8,179.0 3546.9,189.7 3538.8,195.1 3530.8,187.9" fill="#e6a873"/>
<polygon points="3608.8,175.4 3616.9,179.0 3615.1,190.6 3608.8,189.7" fill="#e6a873"/>
<polygon points="3600.8,169.1 3613.3,167.3 3616.9,177.2 3611.5,180.8 3608.8,193.3 3602.6,193.3" fill="#7c3f1f"/>
<polygon points="3559.5,147.0 3565.8,136.8 3578.3,130.2 3592.7,127.8 3603.4,130.2 3608.1,138.0 3604.9,147.0 3601.3,152.4 3599.9,159.2 3600.6,171.8 3596.6,184.4 3589.5,191.2 3581.9,186.9 3578.0,172.7 3574.0,161.9 3563.2,154.2" fill="#ffffff"/>
<polygon points="3590.9,136.8 3599.9,138.4 3607.4,138.8 3605.6,144.9 3608.5,150.6 3603.4,152.0 3601.7,153.8 3599.5,157.8 3592.7,156.7 3586.6,153.8 3583.7,144.1" fill="#e3a877"/>
<polygon points="3584.1,144.1 3590.9,136.8 3592.7,141.3 3590.0,147.0 3586.6,153.8" fill="#c98f5e"/>
<polygon points="3590.9,153.8 3599.1,156.7 3599.9,161.9 3592.7,162.8" fill="#ffffff"/>
<polygon points="3592.7,141.6 3601.7,143.1 3601.3,145.9 3593.6,144.9" fill="#9a6a48"/>
<g fill="#fff" font-family="'Liberation Serif','DejaVu Serif',serif" font-weight="bold" font-size="43">
<text x="3527.4" y="59.2" textLength="109.3" lengthAdjust="spacingAndGlyphs">SAGE</text>
<text x="3652" y="59.2" textLength="49.5" lengthAdjust="spacingAndGlyphs">III</text>
<text x="3733" y="59.2" textLength="60.5" lengthAdjust="spacingAndGlyphs">ISS</text>
<circle cx="3715.9" cy="45.6" r="4.6"/>
</g>
<g fill="#dfe8f2" font-size="8.9">
<text x="3527.6" y="72.2" textLength="173.6" lengthAdjust="spacingAndGlyphs">Stratospheric Aerosol and Gas Experiment III</text>
<text x="3737" y="72.2" textLength="52.2" lengthAdjust="spacingAndGlyphs">International</text>
<text x="3733.4" y="82.7" textLength="59.6" lengthAdjust="spacingAndGlyphs">Space Station</text>
</g>
<text font-size="15.2" font-weight="bold" fill="#fff" textLength="442.0" lengthAdjust="spacing"><textPath href="#arcpath" textLength="442.0" lengthAdjust="spacing">BALL • NASA LANGLEY RESEARCH CENTER • TAS-I • ESA</textPath></text>
</g>
</svg>
</body></html>
